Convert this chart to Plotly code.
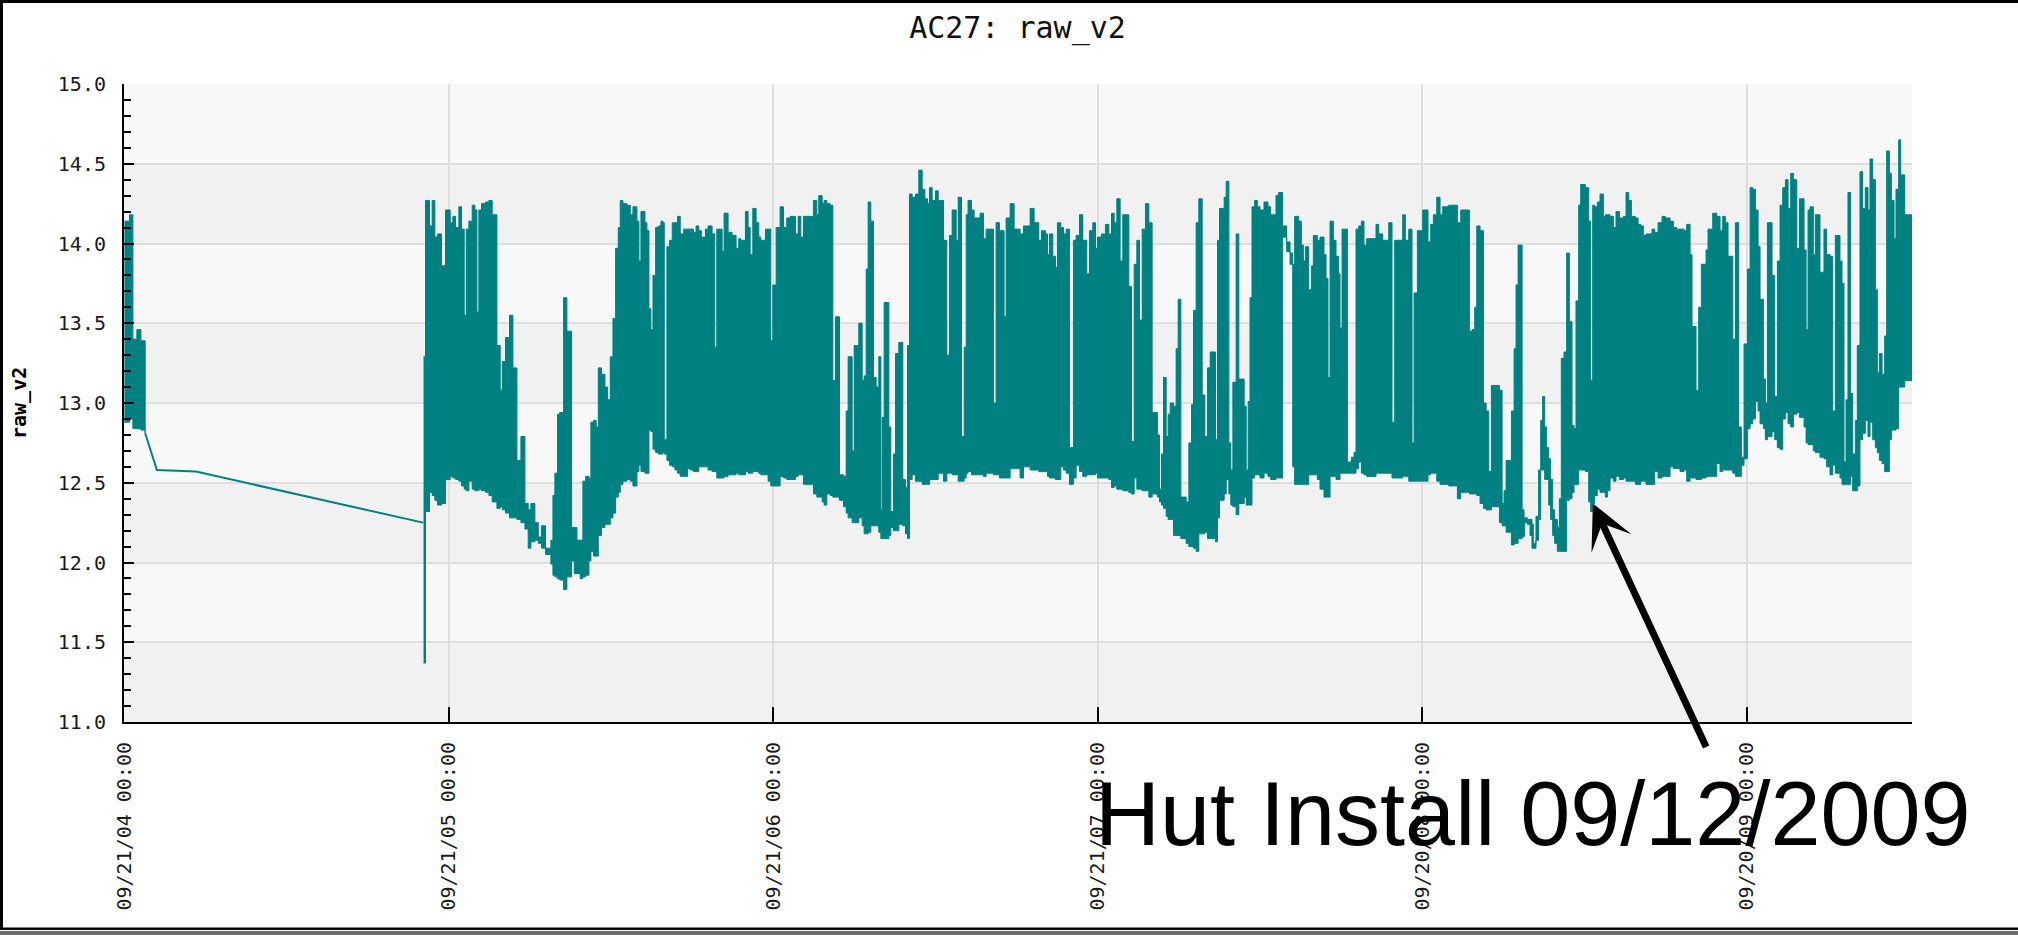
import pandas as pd
import plotly.graph_objects as go

# ---------------- figure geometry / style ----------------
W, H = 2018, 935
ML, MR, MT, MB = 124, 106, 84, 213
TEAL = "#008080"
MONO = "DejaVu Sans Mono"

# ---------------- data ----------------
START = "2004-09-21"          # day 0 of the series
END_DAY = 2010.9               # last reading (days after START)

X_TICK_DATES = ["2004-09-21", "2005-09-21", "2006-09-21",
                "2007-09-21", "2008-09-20", "2009-09-20"]
Y_TICKS = [11.0, 11.5, 12.0, 12.5, 13.0, 13.5, 14.0, 14.5, 15.0]

# first burst of readings (days after START, daily max / min)
EARLY_DAYS = [0.5, 6.2, 10.0, 14.5, 19.0, 23.8]
EARLY_TOP = [14.14, 14.18, 13.40, 13.46, 13.39, 12.81]
EARLY_BOT = [12.88, 12.90, 12.84, 12.84, 12.83, 12.81]

# sparse readings across the outage
GAP_DAYS = [23.8, 30.0, 37.0, 81.0, 336.5]
GAP_VALS = [12.81, 12.70, 12.58, 12.57, 12.25]

# dense record, upper / lower envelope of the readings
DAYS_1 = [336.9, 339.1, 343.6, 346.6, 349.6, 352.6, 357.1, 361.6, 366.9, 369.9,
          372.9, 376.6, 379.6, 382.6, 384.9, 387.9, 391.6, 394.6, 396.9, 399.1,
          402.1, 406.6, 410.4, 414.1, 419.4, 423.1, 425.4, 429.1, 433.6, 437.4,
          441.9, 446.4, 450.9, 454.6, 457.6, 462.1, 465.9, 469.6, 474.1, 480.1,
          482.4, 484.6, 487.6, 489.9, 494.4, 498.1, 503.4, 506.4, 509.4, 513.1,
          516.1, 519.1, 522.9, 525.1, 528.1, 531.1, 533.4, 537.1, 540.9, 543.9,
          546.9, 549.9, 552.9, 555.9, 558.1, 561.1, 565.6, 569.4, 572.4, 576.9,
          579.1, 581.4, 585.9, 588.1, 590.4, 592.6, 594.9, 597.9, 600.9, 603.9,
          606.1, 607.6, 610.6, 613.6, 616.6, 619.6, 622.6, 625.6, 629.4, 633.9]
TOP_1 = [13.29, 14.27, 14.11, 14.27, 14.04, 14.06, 13.86, 14.21, 14.13, 14.17,
         14.10, 14.23, 14.09, 13.55, 14.09, 14.14, 14.24, 14.21, 13.57, 14.21,
         14.25, 14.26, 14.27, 14.18, 13.36, 13.08, 13.26, 13.41, 13.55, 13.22,
         12.64, 12.79, 12.37, 12.33, 12.37, 12.25, 12.16, 12.23, 12.09, 12.14,
         12.42, 12.56, 12.93, 12.94, 13.66, 13.45, 12.22, 12.22, 12.14, 12.14,
         12.51, 12.54, 12.53, 12.88, 12.89, 12.85, 13.22, 13.18, 13.10, 13.02,
         13.29, 13.53, 13.97, 14.10, 14.27, 14.25, 14.24, 14.18, 14.23, 14.14,
         13.89, 14.20, 14.13, 14.08, 13.59, 13.46, 13.80, 14.10, 14.11, 14.14,
         14.13, 12.77, 13.98, 14.02, 14.13, 14.13, 14.17, 14.06, 14.09, 14.09]
BOT_1 = [11.37, 12.32, 12.44, 12.42, 12.39, 12.36, 12.37, 12.52, 12.54, 12.53,
         12.52, 12.51, 12.48, 12.46, 12.45, 12.51, 12.46, 12.45, 12.45, 12.46,
         12.45, 12.44, 12.42, 12.38, 12.34, 12.35, 12.33, 12.31, 12.28, 12.28,
         12.27, 12.25, 12.21, 12.09, 12.13, 12.14, 12.12, 12.09, 12.05, 11.99,
         11.92, 11.91, 11.90, 11.89, 11.83, 11.91, 12.01, 11.93, 11.93, 11.90,
         11.91, 11.92, 12.01, 12.07, 12.04, 12.04, 12.17, 12.22, 12.24, 12.24,
         12.28, 12.31, 12.41, 12.44, 12.49, 12.51, 12.52, 12.51, 12.48, 12.57,
         12.61, 12.57, 12.56, 12.56, 12.83, 12.82, 12.71, 12.69, 12.68, 12.68,
         12.69, 12.68, 12.64, 12.61, 12.60, 12.58, 12.56, 12.54, 12.54, 12.59]

DAYS_2 = [636.7, 640.4, 643.4, 646.4, 649.4, 653.9, 656.9, 661.4, 664.4, 666.7,
          672.7, 674.9, 679.4, 683.9, 688.4, 691.4, 693.7, 698.9, 701.9, 704.2,
          707.2, 710.9, 713.9, 716.2, 721.4, 724.4, 727.4, 729.7, 733.4, 737.9,
          741.7, 745.4, 749.2, 755.2, 758.2, 761.2, 764.2, 775.4, 779.2, 781.4,
          785.2, 787.4, 790.4, 794.2, 797.2, 800.2, 804.7, 809.2, 812.2, 814.4,
          818.9, 821.2, 826.4, 830.2, 832.4, 834.7, 836.9, 839.9, 842.9, 845.9,
          848.9, 851.2, 852.7, 854.9, 860.2, 862.4, 865.4, 867.7, 871.4, 875.9,
          878.9, 881.2, 883.4, 886.4, 890.2, 893.9, 897.7, 900.7, 903.7, 905.9,
          908.9, 912.7, 915.7, 921.7, 925.4, 928.4, 931.4, 935.9, 938.2, 941.9,
          944.9, 947.2]
TOP_2 = [14.09, 14.07, 14.11, 14.08, 14.04, 14.09, 14.11, 14.06, 13.35, 14.09,
         13.95, 14.19, 14.07, 14.05, 13.97, 14.03, 14.02, 14.20, 14.10, 13.93,
         14.22, 14.13, 14.04, 14.02, 14.09, 14.09, 13.39, 13.74, 14.10, 14.23,
         14.10, 14.16, 14.17, 14.06, 14.17, 14.04, 14.17, 14.27, 14.18, 14.30,
         14.25, 14.27, 14.25, 14.24, 13.14, 13.54, 12.55, 12.54, 12.95, 13.29,
         12.70, 13.36, 13.50, 13.14, 13.17, 13.84, 14.26, 14.14, 13.16, 13.10,
         13.29, 12.33, 12.91, 13.63, 12.85, 12.32, 12.68, 13.31, 13.38, 12.52,
         12.47, 13.36, 14.31, 14.29, 14.31, 14.46, 14.34, 14.28, 14.25, 14.35,
         14.27, 14.33, 14.27, 14.02, 13.30, 14.05, 14.21, 14.02, 14.29, 12.79,
         13.35, 14.18]
BOT_2 = [12.58, 12.57, 12.57, 12.60, 12.60, 12.60, 12.58, 12.57, 12.57, 12.53,
         12.53, 12.54, 12.55, 12.55, 12.56, 12.55, 12.55, 12.57, 12.56, 12.56,
         12.57, 12.57, 12.56, 12.55, 12.55, 12.51, 12.48, 12.48, 12.48, 12.54,
         12.53, 12.52, 12.52, 12.54, 12.55, 12.55, 12.49, 12.43, 12.41, 12.41,
         12.38, 12.36, 12.43, 12.42, 12.41, 12.41, 12.39, 12.35, 12.31, 12.28,
         12.25, 12.25, 12.28, 12.23, 12.18, 12.18, 12.19, 12.23, 12.23, 12.23,
         12.19, 12.15, 12.15, 12.15, 12.17, 12.22, 12.20, 12.20, 12.24, 12.23,
         12.18, 12.15, 12.52, 12.55, 12.51, 12.51, 12.49, 12.49, 12.49, 12.52,
         12.52, 12.52, 12.56, 12.51, 12.56, 12.56, 12.55, 12.55, 12.51, 12.51,
         12.53, 12.56]

DAYS_3 = [949.3, 953.1, 956.1, 962.8, 966.6, 969.6, 977.8, 980.8, 984.6, 989.8,
          992.1, 996.6, 1001.1, 1007.8, 1011.6, 1019.1, 1023.6, 1028.8, 1031.8, 1036.3,
          1038.6, 1040.8, 1044.6, 1047.6, 1049.8, 1053.6, 1056.6, 1059.6, 1063.3, 1067.8,
          1070.8, 1074.6, 1078.3, 1082.8, 1085.8, 1089.6, 1092.6, 1094.8, 1099.3, 1103.8,
          1107.6, 1110.6, 1113.6, 1116.6, 1120.3, 1123.3, 1130.1, 1133.1, 1136.1, 1139.1,
          1142.1, 1145.1, 1148.8, 1152.6, 1156.3, 1162.3, 1164.6, 1166.8, 1169.1, 1172.1,
          1174.3, 1176.6, 1180.3, 1183.3, 1185.6, 1188.6, 1194.6, 1197.6, 1200.6, 1202.8,
          1205.8, 1208.8, 1212.6, 1215.6, 1218.6, 1221.6, 1227.6, 1229.8, 1232.1, 1237.3,
          1239.6, 1242.6, 1244.8, 1247.1, 1250.8, 1253.8, 1259.8, 1262.1, 1264.3]
TOP_3 = [14.27, 14.21, 14.16, 14.19, 14.03, 14.09, 13.00, 14.13, 14.08, 13.54,
         14.16, 14.25, 14.09, 14.06, 14.11, 14.22, 14.13, 14.02, 14.08, 14.06,
         13.93, 14.06, 13.92, 13.85, 14.13, 14.10, 14.06, 14.09, 12.72, 14.02,
         14.05, 14.18, 14.02, 13.81, 14.08, 14.13, 13.97, 14.04, 14.06, 14.12,
         14.06, 14.19, 14.13, 14.28, 13.89, 14.18, 13.73, 12.76, 13.87, 14.02,
         13.52, 14.09, 14.25, 14.13, 12.94, 12.80, 12.46, 12.68, 13.16, 12.79,
         12.93, 13.00, 12.98, 13.34, 13.65, 12.41, 12.38, 12.75, 12.99, 13.58,
         14.13, 14.28, 13.05, 12.79, 13.22, 13.32, 12.77, 14.02, 14.22, 14.29,
         14.39, 12.75, 12.58, 13.13, 14.06, 13.15, 12.98, 12.58, 13.01]
BOT_3 = [12.57, 12.55, 12.55, 12.55, 12.54, 12.56, 12.55, 12.55, 12.53, 12.53,
         12.53, 12.59, 12.59, 12.53, 12.60, 12.58, 12.58, 12.57, 12.57, 12.57,
         12.54, 12.53, 12.53, 12.52, 12.52, 12.60, 12.58, 12.56, 12.49, 12.53,
         12.61, 12.57, 12.54, 12.55, 12.55, 12.55, 12.56, 12.53, 12.53, 12.53,
         12.52, 12.47, 12.48, 12.46, 12.46, 12.45, 12.44, 12.43, 12.53, 12.46,
         12.46, 12.45, 12.45, 12.41, 12.43, 12.41, 12.38, 12.36, 12.34, 12.29,
         12.27, 12.27, 12.17, 12.17, 12.17, 12.15, 12.12, 12.10, 12.10, 12.09,
         12.07, 12.18, 12.18, 12.19, 12.15, 12.15, 12.13, 12.28, 12.39, 12.43,
         12.52, 12.43, 12.36, 12.35, 12.30, 12.37, 12.41, 12.36, 12.36]

DAYS_4 = [1266.4, 1268.6, 1271.6, 1274.6, 1277.6, 1282.1, 1286.6, 1289.6, 1295.6, 1298.6,
          1303.1, 1307.6, 1311.4, 1314.4, 1316.6, 1321.1, 1324.1, 1326.4, 1328.6, 1332.4,
          1335.4, 1337.6, 1342.1, 1345.1, 1349.6, 1351.9, 1354.1, 1356.4, 1360.1, 1363.1,
          1366.1, 1367.6, 1369.9, 1375.9, 1380.4, 1383.4, 1385.6, 1388.6, 1391.6, 1394.6,
          1397.6, 1408.1, 1411.1, 1415.6, 1422.4, 1426.1, 1429.1, 1438.1, 1441.1, 1444.9,
          1448.6, 1450.9, 1454.6, 1460.6, 1466.6, 1469.6, 1472.6, 1476.4, 1480.1, 1483.1,
          1489.9, 1499.6, 1503.4, 1513.1, 1516.1, 1519.1, 1521.4, 1525.1, 1528.9, 1531.9,
          1534.9, 1537.9, 1546.9, 1549.9, 1552.1, 1554.4, 1560.4, 1563.4, 1565.6, 1567.9,
          1572.4, 1574.6]
TOP_4 = [13.66, 14.23, 14.27, 14.23, 14.21, 14.26, 14.23, 14.18, 14.30, 14.32,
         14.11, 14.01, 13.94, 13.87, 14.17, 14.14, 13.99, 13.89, 13.98, 13.71,
         13.86, 14.05, 14.02, 14.04, 13.93, 13.78, 13.16, 14.14, 14.02, 13.92,
         13.81, 13.47, 14.09, 12.63, 12.66, 12.69, 14.09, 14.11, 14.14, 13.99,
         14.03, 14.12, 14.06, 14.02, 14.13, 12.88, 14.02, 14.18, 14.02, 14.09,
         12.75, 13.69, 14.08, 14.21, 14.01, 14.12, 14.18, 14.29, 14.18, 14.23,
         14.24, 14.13, 14.21, 13.45, 13.46, 13.60, 14.11, 14.08, 13.00, 12.95,
         12.57, 13.11, 13.08, 12.37, 12.45, 12.64, 12.95, 13.34, 13.74, 13.99,
         12.33, 12.28]
BOT_4 = [12.36, 12.53, 12.55, 12.55, 12.53, 12.56, 12.54, 12.52, 12.53, 12.53,
         14.04, 13.95, 13.87, 12.60, 12.49, 12.49, 12.49, 12.49, 12.49, 12.55,
         12.55, 12.55, 12.52, 12.46, 12.41, 12.41, 12.41, 12.54, 12.54, 12.52,
         12.52, 12.56, 12.56, 12.56, 12.56, 12.56, 12.59, 12.63, 12.56, 12.55,
         12.54, 12.56, 12.56, 12.56, 12.56, 12.53, 12.53, 12.54, 12.54, 12.51,
         12.51, 12.51, 12.51, 12.51, 12.55, 12.56, 12.56, 12.51, 12.49, 12.49,
         12.48, 12.40, 12.44, 12.43, 12.43, 12.43, 12.42, 12.37, 12.34, 12.33,
         12.33, 12.35, 12.25, 12.23, 12.23, 12.19, 12.11, 12.12, 12.12, 12.15,
         12.16, 12.17]

DAYS_5 = [1575.3, 1578.3, 1581.3, 1583.5, 1585.0, 1588.0, 1591.0, 1593.3, 1595.5, 1597.8,
          1600.0, 1602.3, 1604.5, 1606.8, 1609.0, 1612.0, 1614.3, 1616.5, 1619.5, 1622.5,
          1625.5, 1628.5, 1630.8, 1633.0, 1636.0, 1638.3, 1643.5, 1647.3, 1649.5, 1651.8,
          1654.0, 1657.0, 1660.0, 1663.8, 1666.0, 1668.3, 1671.3, 1675.0, 1678.0, 1681.8,
          1686.3, 1689.3, 1692.3, 1695.3, 1699.8, 1702.8, 1705.8, 1708.8, 1711.8, 1718.5,
          1721.5, 1725.3, 1729.8, 1733.5, 1738.8, 1742.5, 1746.3, 1750.0, 1754.5, 1757.5,
          1761.3, 1763.5, 1768.0, 1771.0, 1774.0, 1779.3, 1781.5, 1786.8, 1791.3, 1795.0,
          1798.0, 1801.0, 1804.0, 1809.3, 1812.3, 1816.0, 1819.0, 1822.0, 1825.8, 1828.8,
          1831.8, 1834.8, 1837.8, 1840.0, 1843.8, 1846.0, 1848.3, 1853.5, 1856.5, 1859.5,
          1862.5, 1865.5, 1868.5, 1871.5, 1874.5, 1877.5, 1881.3, 1884.3, 1889.5, 1891.8,
          1894.0]
TOP_5 = [12.28, 12.27, 12.27, 12.24, 12.12, 12.29, 12.58, 12.89, 13.04, 12.85,
         12.72, 12.65, 12.52, 12.33, 12.27, 12.22, 12.40, 13.28, 13.32, 13.94,
         13.51, 12.86, 12.84, 13.64, 14.24, 14.37, 14.35, 14.14, 13.14, 14.24,
         14.23, 14.26, 14.31, 14.17, 14.18, 14.18, 14.17, 14.10, 14.20, 14.16,
         14.17, 14.32, 14.27, 14.17, 14.16, 14.12, 14.11, 14.05, 14.06, 14.09,
         14.07, 14.13, 14.17, 14.16, 14.14, 14.10, 14.09, 14.09, 14.08, 14.12,
         13.93, 13.48, 13.08, 13.60, 13.87, 13.96, 14.09, 14.19, 14.17, 14.08,
         14.17, 14.13, 13.92, 13.40, 14.13, 12.85, 12.66, 13.37, 13.84, 14.35,
         14.34, 14.21, 13.98, 13.65, 13.15, 13.00, 14.13, 13.80, 13.04, 13.89,
         14.24, 14.35, 14.40, 14.22, 14.44, 14.40, 13.97, 14.28, 13.96, 13.46,
         14.21]
BOT_5 = [12.25, 12.24, 12.17, 12.09, 12.09, 12.14, 12.27, 12.58, 12.58, 12.52,
         12.52, 12.36, 12.27, 12.17, 12.12, 12.07, 12.07, 12.07, 12.07, 12.39,
         12.40, 12.44, 12.49, 12.49, 12.58, 12.58, 12.57, 12.38, 12.32, 12.37,
         12.42, 12.46, 12.44, 12.44, 12.41, 12.45, 12.53, 12.51, 12.54, 12.52,
         12.53, 12.51, 12.51, 12.51, 12.49, 12.49, 12.51, 12.51, 12.49, 12.49,
         12.57, 12.53, 12.54, 12.54, 12.60, 12.59, 12.59, 12.57, 12.58, 12.51,
         12.53, 12.53, 12.52, 12.52, 12.53, 12.54, 12.54, 12.54, 12.62, 12.57,
         12.58, 12.58, 12.58, 12.56, 12.54, 12.54, 12.61, 12.65, 12.84, 12.87,
         12.90, 13.01, 12.95, 12.87, 12.84, 12.77, 12.79, 12.82, 12.77, 12.72,
         12.71, 12.90, 12.94, 12.87, 12.85, 12.93, 12.94, 12.91, 12.85, 12.75,
         12.74]

DAYS_6 = [1896.2, 1899.9, 1902.2, 1907.4, 1911.9, 1914.9, 1918.7, 1921.7, 1924.7, 1929.9,
          1932.2, 1934.4, 1936.7, 1938.9, 1941.9, 1944.2, 1947.2, 1949.4, 1952.4, 1955.4,
          1958.4, 1961.4, 1963.7, 1966.7, 1969.7, 1971.9, 1974.2, 1977.2, 1980.2, 1982.4,
          1985.4, 1987.7, 1990.7, 1992.9, 1995.9, 1998.2, 2002.7, 2010.9]
TOP_6 = [14.23, 13.93, 14.18, 13.82, 14.09, 13.93, 13.92, 12.95, 14.05, 13.89,
         13.75, 12.63, 13.02, 14.32, 13.06, 12.68, 12.89, 13.36, 14.45, 14.22,
         14.35, 14.21, 14.53, 14.40, 13.71, 13.19, 13.31, 13.18, 13.42, 14.58,
         14.44, 14.27, 14.03, 14.34, 14.65, 14.43, 14.18, 14.18]
BOT_6 = [12.74, 12.70, 12.69, 12.66, 12.65, 12.60, 12.55, 12.61, 12.56, 12.53,
         12.49, 12.49, 12.49, 12.49, 12.54, 12.45, 12.45, 12.48, 12.77, 12.81,
         12.89, 12.79, 12.88, 12.77, 12.72, 12.69, 12.64, 12.62, 12.57, 12.57,
         12.77, 12.83, 12.83, 12.84, 13.10, 13.10, 13.14, 13.14]

# annotation
NOTE_TEXT = "Hut Install 09/12/2009"
NOTE_DAY = 1652.0
NOTE_VAL = 12.37

# ---------------- assemble ----------------
MAIN_DAYS = DAYS_1 + DAYS_2 + DAYS_3 + DAYS_4 + DAYS_5 + DAYS_6
MAIN_TOP = TOP_1 + TOP_2 + TOP_3 + TOP_4 + TOP_5 + TOP_6
MAIN_BOT = BOT_1 + BOT_2 + BOT_3 + BOT_4 + BOT_5 + BOT_6
for a, b, c in [(DAYS_1, TOP_1, BOT_1), (DAYS_2, TOP_2, BOT_2), (DAYS_3, TOP_3, BOT_3),
                (DAYS_4, TOP_4, BOT_4), (DAYS_5, TOP_5, BOT_5), (DAYS_6, TOP_6, BOT_6)]:
    assert len(a) == len(b) == len(c), (len(a), len(b), len(c))

base = pd.Timestamp(START)


def to_dates(days):
    return base + pd.to_timedelta(days, unit="D")


PW = W - ML - MR
PH = H - MT - MB


def px(X):
    return (X - ML) / PW


def py(Y):
    return (H - MB - Y) / PH


fig = go.Figure()

edge = dict(color=TEAL, width=1, shape="hv")
xe = to_dates(EARLY_DAYS)
fig.add_trace(go.Scatter(x=xe, y=EARLY_BOT, mode="lines", line=edge,
                         hoverinfo="skip", showlegend=False))
fig.add_trace(go.Scatter(x=xe, y=EARLY_TOP, mode="lines", line=edge,
                         fill="tonexty", fillcolor=TEAL,
                         hoverinfo="skip", showlegend=False))
fig.add_trace(go.Scatter(x=to_dates(GAP_DAYS), y=GAP_VALS, mode="lines",
                         line=dict(color=TEAL, width=2),
                         hoverinfo="skip", showlegend=False))
xm = to_dates(MAIN_DAYS)
fig.add_trace(go.Scatter(x=xm, y=MAIN_BOT, mode="lines", line=edge,
                         hoverinfo="skip", showlegend=False))
fig.add_trace(go.Scatter(x=xm, y=MAIN_TOP, mode="lines", line=edge,
                         fill="tonexty", fillcolor=TEAL,
                         hoverinfo="skip", showlegend=False))

shapes = []
# alternating horizontal bands
for i in range(0, len(Y_TICKS) - 1, 2):
    shapes.append(dict(type="rect", xref="paper", yref="y", x0=0, x1=1,
                       y0=Y_TICKS[i], y1=Y_TICKS[i + 1], fillcolor="#f1f1f1",
                       line=dict(width=0), layer="below"))
# window frame
frame = [((0, 0), (W, 3), "black"), ((0, 0), (3, 930), "black"),
         ((0, 927.5), (W, 930), "black"), ((0, 931), (W, H), "#6b6b6b")]
for (x0, y0), (x1, y1), col in frame:
    shapes.append(dict(type="rect", xref="paper", yref="paper",
                       x0=px(x0), x1=px(x1), y0=py(y0), y1=py(y1),
                       fillcolor=col, line=dict(width=0), layer="above"))

annotations = [
    dict(x=to_dates([NOTE_DAY])[0], y=NOTE_VAL, xref="x", yref="y", text="",
         showarrow=True, ax=114, ay=245, axref="pixel", ayref="pixel",
         arrowhead=3, arrowsize=1.05, arrowwidth=7, arrowcolor="black",
         standoff=0),
    dict(x=px(1533), y=py(814), xref="paper", yref="paper", text=NOTE_TEXT,
         showarrow=False, xanchor="center", yanchor="middle",
         font=dict(family="Liberation Sans, Arial", size=90, color="black")),
    dict(x=px(19), y=0.5, xref="paper", yref="paper", text="<b>raw_v2</b>",
         showarrow=False, textangle=-90, xanchor="center", yanchor="middle",
         font=dict(family=MONO, size=20, color="black")),
]

fig.update_layout(
    width=W, height=H,
    margin=dict(l=ML, r=MR, t=MT, b=MB, pad=0),
    paper_bgcolor="white", plot_bgcolor="#f8f8f8",
    title=dict(text="AC27: raw_v2", x=px(1017.5), xref="paper", xanchor="center",
               y=1 - 27.5 / H, yref="container", yanchor="middle",
               font=dict(family=MONO, size=30, color="#111111")),
    shapes=shapes, annotations=annotations,
    hovermode=False,
)
fig.update_xaxes(
    type="date", range=[base, base + pd.Timedelta(days=END_DAY)],
    tickvals=X_TICK_DATES, tickformat="%m/%d/%y %H:%M", tickangle=-90,
    tickfont=dict(family=MONO, size=20, color="#1a1a1a"),
    ticks="inside", ticklen=15, tickwidth=2, tickcolor="black",
    ticklabelstandoff=10,
    showgrid=True, gridcolor="#dedede", gridwidth=2,
    showline=True, linecolor="black", linewidth=2, mirror=False,
    zeroline=False,
)
fig.update_yaxes(
    range=[11, 15], tickvals=Y_TICKS, tickformat=".1f",
    tickfont=dict(family=MONO, size=20, color="#1a1a1a"),
    ticks="inside", ticklen=10, tickwidth=2, tickcolor="black",
    ticklabelstandoff=12,
    minor=dict(dtick=0.1, tick0=11, ticks="inside", ticklen=7, tickwidth=2,
               tickcolor="black", showgrid=False),
    showgrid=True, gridcolor="#dedede", gridwidth=2,
    showline=True, linecolor="black", linewidth=2, mirror=False,
    zeroline=False,
)

fig.write_html("out.html")
